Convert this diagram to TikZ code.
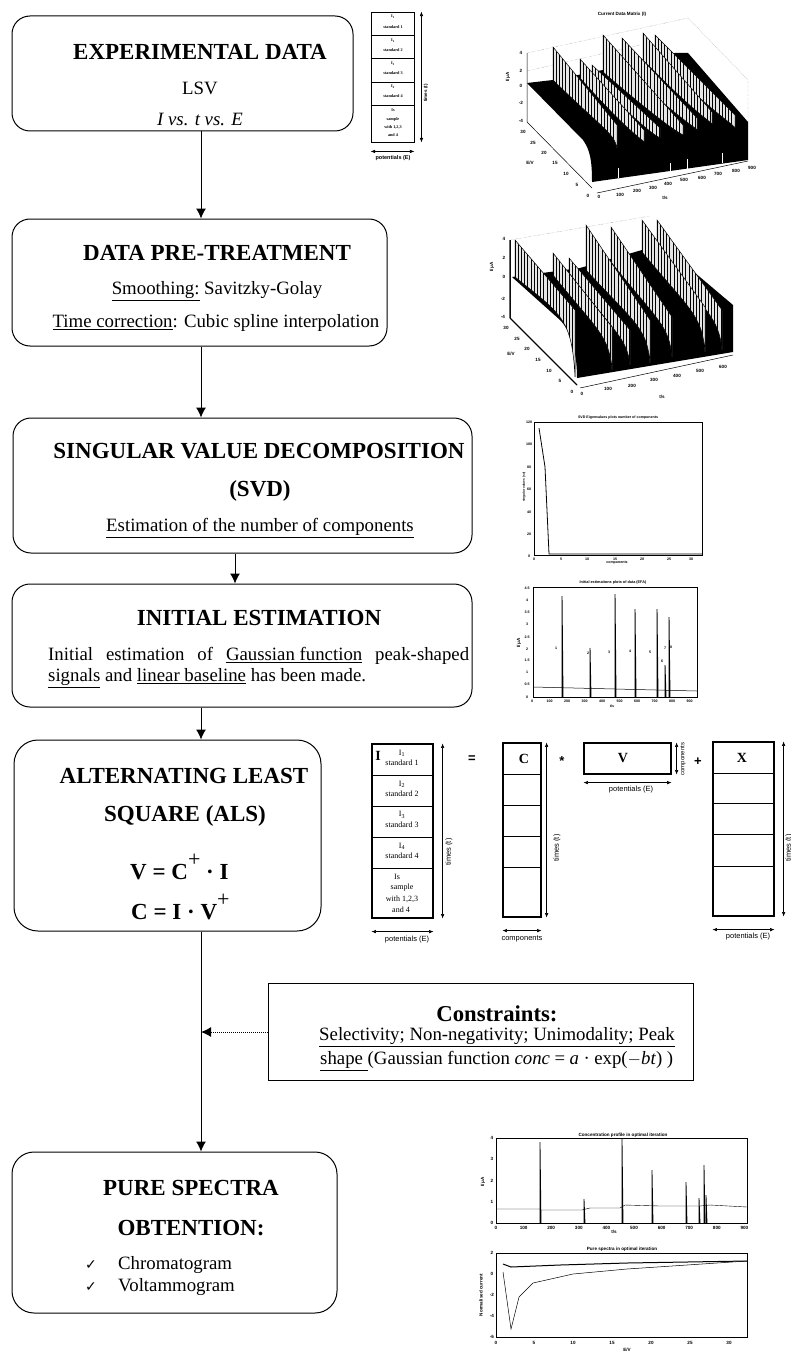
\documentclass[tikz,border=0pt]{standalone}
\usepackage{fontspec}
\setmainfont{Liberation Serif}
\setsansfont{Liberation Sans}
\newfontfamily\checkfont{DejaVu Sans}
\usetikzlibrary{arrows.meta, calc}

\newcommand{\headfont}{\fontsize{23}{25}\selectfont\bfseries}
\newcommand{\bodyfont}{\fontsize{18.8}{20}\selectfont}
\newcommand{\plotfont}{\fontsize{4.6}{5}\selectfont\sffamily\bfseries}
\newcommand{\efafont}{\fontsize{3.6}{4}\selectfont\sffamily\bfseries}
\newcommand{\axisfont}{\fontsize{7.5}{8}\selectfont\sffamily}
\newcommand{\cellfont}{\fontsize{8}{9}\selectfont}
\newcommand{\smallcellfont}{\fontsize{4.2}{5}\selectfont\bfseries}
\newcommand{\supplus}{\raisebox{0.55em}{\fontsize{22}{22}\selectfont\mdseries +}}

% one wall of a 3D surface: back x, back top, back bottom, front x, front top, foot
\newcommand{\surfwall}[6]{
\begin{scope}
\clip (#1,#2) -- (#4,#5) -- (#4,#6) .. controls ({#4-3},{#5+8}) and ({#4-14},{#5+4}) .. (#1,#3) -- cycle;
\fill[black!10] (#1,#2) rectangle (#4+2,#6);
\foreach \hx in {0,3.2,...,90}
  \draw[line width=1pt] ({#1+\hx},#2) -- ({#1+\hx},#6);
\end{scope}
\draw[line width=0.5pt] (#1,#2) -- (#4,#5) -- (#4,#6) .. controls ({#4-3},{#5+8}) and ({#4-14},{#5+4}) .. (#1,#3) -- cycle;
}

\tikzset{
  stagebox/.style={rectangle, draw, rounded corners=18pt, line width=1pt, inner sep=0pt},
  headtext/.style={font=\headfont, inner sep=0pt},
  bodytext/.style={font=\bodyfont, inner sep=0pt},
  flow/.style={-{Latex[length=10pt,width=10pt]}, line width=1pt},
  cellline/.style={line width=0.7pt},
  matbox/.style={rectangle, draw, line width=1.2pt, inner sep=0pt},
  dimarrow/.style={{Latex[length=4.5pt,width=3.5pt]}-{Latex[length=4.5pt,width=3.5pt]}, line width=0.6pt},
  dimtext/.style={font=\axisfont, inner sep=0pt},
  celltext/.style={font=\cellfont, inner sep=0pt},
  smallcell/.style={font=\smallcellfont, inner sep=0pt},
  lettertext/.style={font=\fontsize{14}{14}\selectfont\bfseries, inner sep=0pt},
  optext/.style={font=\fontsize{13}{13}\selectfont\bfseries\sffamily, inner sep=0pt},
  ticklab/.style={font=\plotfont, inner sep=0pt},
  efalab/.style={font=\efafont, inner sep=0pt},
  griddot/.style={densely dotted, line width=0.3pt, black!60},
  plotframe/.style={draw, line width=0.6pt}
}

\begin{document}
\begin{tikzpicture}[x=1pt,y=-1pt]
\useasboundingbox (0,0) rectangle (791,1351);
\coordinate (axis) at (201,0);
\coordinate (axisb) at (235,0);

% Stage boxes
\node[stagebox, minimum width=341pt, minimum height=115pt] (expdata) at (182.5,73.5) {};
\node[stagebox, minimum width=375pt, minimum height=127pt] (pretreat) at (199.5,282.5) {};
\node[stagebox, minimum width=459pt, minimum height=135pt] (svd) at (242.5,485.5) {};
\node[stagebox, minimum width=460pt, minimum height=123pt] (initest) at (242,645.5) {};
\node[stagebox, rounded corners=24pt, minimum width=307pt, minimum height=191pt] (als) at (167.5,835.5) {};
\node[rectangle, draw, line width=1pt, minimum width=425pt, minimum height=97pt] (constraints) at (480.5,1032) {};
\node[stagebox, rounded corners=22pt, minimum width=325pt, minimum height=161pt] (pure) at (174.5,1232.5) {};

% Connectors
\draw[flow] (expdata.south -| axis) -- (pretreat.north -| axis);
\draw[flow] (pretreat.south -| axis) -- (svd.north -| axis);
\draw[flow] (svd.south -| axisb) -- (initest.north -| axisb);
\draw[flow] (initest.south -| axis) -- (als.north -| axis);
\draw[flow] (als.south -| axis) -- (pure.north -| axis);
\draw[-{Latex[length=10pt,width=10pt]}, line width=1pt, densely dotted] (constraints.west) -- (axis |- constraints.west);

% Box 1
\node[headtext] (exptitle) at (200,52) {EXPERIMENTAL DATA};
\node[bodytext] (explsv) at (200,88) {LSV};
\node[bodytext] (expaxes) at (200,119) {\itshape I vs. t vs. E};

% Box 2
\node[headtext] (pretitle) at (217,253) {DATA PRE-TREATMENT};
\node[bodytext] (presmooth) at (217,291) {\underline{Smoothing:} Savitzky-Golay};
\node[bodytext] (pretime) at (216,323) {\underline{Time correction}: Cubic spline interpolation};

% Box 3
\node[headtext] (svdtitle) at (259,451) {SINGULAR VALUE DECOMPOSITION};
\node[headtext] (svdshort) at (260,491) {(SVD)};
\node[bodytext] (svdtext) at (260,528) {\underline{Estimation of the number of components}};

% Box 4
\node[headtext] (initle) at (259,618) {INITIAL ESTIMATION};
\node[bodytext, anchor=west] (inione) at (48,656) {\makebox[421pt][s]{Initial estimation of \underline{Gaussian function} peak-shaped}};
\node[bodytext, anchor=west] (initwo) at (48,678) {\underline{signals} and \underline{linear baseline} has been made.};

% Box 5
\node[headtext] (alsone) at (184,776) {ALTERNATING LEAST};
\node[headtext] (alstwo) at (185,816) {SQUARE (ALS)};
\node[headtext, anchor=west] (alsv) at (130,867) {V = C\supplus{} · I};
\node[headtext, anchor=west] (alsc) at (131,907) {C = I · V\supplus};

% Constraints
\node[font=\fontsize{22.7}{24}\selectfont\bfseries, inner sep=0pt] (contitle) at (497,1014) {Constraints:};
\node[bodytext] (conone) at (497,1037) {\underline{Selectivity; Non-negativity; Unimodality; Peak}};
\node[bodytext, anchor=west] (contwo) at (320,1061) {\makebox[353pt][s]{\underline{shape\ }(Gaussian function \textit{conc} = \textit{a} · exp($-$\textit{bt}) )}};

% Box 7
\node[headtext] (puretitle) at (191,1188) {PURE SPECTRA};
\node[headtext] (puretwo) at (191,1228) {OBTENTION:};
\node[font=\fontsize{14}{15}\selectfont, inner sep=0pt] (checka) at (91,1265) {\checkfont ✓};
\node[font=\fontsize{14}{15}\selectfont, inner sep=0pt] (checkb) at (91,1287) {\checkfont ✓};
\node[bodytext, anchor=west] (purea) at (118,1265) {Chromatogram};
\node[bodytext, anchor=west] (pureb) at (118,1287) {Voltammogram};

% Small data matrix
\node[matbox, line width=0.9pt, minimum width=43pt, minimum height=130pt] (smallmat) at (392.5,77) {};
\foreach \ly in {35,58,82,105}
  \draw[cellline] (smallmat.west |- 0,\ly) -- (smallmat.east |- 0,\ly);
\foreach \ly/\ty/\i in {17/27/1,41/50/2,64/73/3,87/96/4} {
  \node[smallcell] (smallI\i) at (393,\ly) {I\textsubscript{\i}};
  \node[smallcell] (smallS\i) at (393,\ty) {standard \i};
}
\node[smallcell] (smallIs) at (393,110) {Is};
\node[smallcell] (smallsa) at (393,119) {sample};
\node[smallcell] (smallwi) at (393,127) {with 1,2,3};
\node[smallcell] (smallan) at (393,135) {and 4};
\draw[dimarrow] ([xshift=7pt]smallmat.north east) -- ([xshift=7pt]smallmat.south east);
\draw[dimarrow] ([yshift=-9pt]smallmat.south west) -- ([yshift=-9pt]smallmat.south east);
\node[ticklab, rotate=90] (smalltimes) at (426,93) {times (t)};
\node[ticklab, font=\fontsize{5.5}{6}\selectfont\sffamily\bfseries] (smallpot) at (393,158) {potentials (E)};

% Surface plot 1
\node[ticklab] (surfatitle) at (622,14) {Current Data Matrix (I)};
\draw[griddot] (527,53) -- (688,18) -- (748,80) -- (748,122);
\draw[griddot] (527,71) -- (640,45);
\fill (527,83) -- (553,80) -- (603,70) -- (675,53) -- (688,53) -- (748,122) -- (748,160) -- (592,182) .. controls (592,160) and (590,150) .. (583,140) -- cycle;
\foreach \bx/\bt/\bb/\fx/\ft/\fb in {655/35/58/735/115/128,643/33/60/712/112/124,622/38/67/697/118/130,603/35/72/683/125/135,592/65/76/660/128/138,580/59/78/644/130/142,553/47/80/617/125/148}
  \surfwall{\bx}{\bt}{\bb}{\fx}{\ft}{\fb}
\foreach \sx/\sy in {618/172,670/167,687/163,722/157}
  \draw[white, line width=0.8pt] (\sx,\sy+6) -- (\sx,\sy-4);
\draw[line width=0.5pt] (527,53) -- (527,122) -- (592,188);
\draw[line width=0.5pt] (597,193) -- (748,161);
\foreach \ty/\lab in {53/4,71/2,86/0,103/-2,121/-4}
  \node[ticklab] (surfaz\lab) at (521,\ty) {\lab};
\foreach \tx/\ty/\lab in {523/132/30,533/143/25,544/153/20,555/163/15,566/174/10,577/185/5,588/196/0}
  \node[ticklab] (surfae\lab) at (\tx,\ty) {\lab};
\foreach \tx/\ty/\lab in {599/197/0,620/195/100,637/191/200,653/188/300,668/184/400,684/180/500,702/178/600,718/174/700,736/171/800,752/168/900}
  \node[ticklab] (surfat\lab) at (\tx,\ty) {\lab};
\node[ticklab, rotate=90] (surfaI) at (508,77) {I/μA};
\node[ticklab] (surfaE) at (530,163) {E/V};
\node[ticklab] (surfat) at (665,198) {t/s};

% Surface plot 2
\draw[griddot] (510,240) -- (650,216);
\fill (512,277) -- (580,268) -- (642,250) -- (662,245) -- (733,305) -- (733,352) -- (577,378) .. controls (577,350) and (570,330) .. (560,320) -- cycle;
\foreach \bx/\bt/\bb/\fx/\ft/\fb in {657/220/248/722/310/350,642/220/252/705/307/352,611/227/262/672/317/357,586/225/270/650/320/363,569/258/273/630/330/365,553/253/275/612/327/370,515/240/277/575/310/377}
  \surfwall{\bx}{\bt}{\bb}{\fx}{\ft}{\fb}
\draw[line width=0.5pt] (510,240) -- (510,318) -- (577,385);
\draw[line width=0.5pt] (580,388) -- (733,355);
\foreach \ty/\tx/\lab in {239/504/4,258/504/2,277/504/0,299/503/-2,317/503/-4}
  \node[ticklab] (surfbz\lab) at (\tx,\ty) {\lab};
\foreach \tx/\ty/\lab in {506/328/30,517/339/25,527/349/20,538/360/15,549/371/10,560/381/5,572/392/0}
  \node[ticklab] (surfbe\lab) at (\tx,\ty) {\lab};
\foreach \tx/\ty/\lab in {582/394/0,608/389/100,632/386/200,654/380/300,677/376/400,700/371/500,723/367/600}
  \node[ticklab] (surfbt\lab) at (\tx,\ty) {\lab};
\node[ticklab, rotate=90] (surfbI) at (492,267) {I/μA};
\node[ticklab] (surfbE) at (511,354) {E/V};
\node[ticklab] (surfbtt) at (662,397) {t/s};

% SVD plot
\node[efalab] (svdplottitle) at (618,418) {SVD Eigenvalues plots number of components};
\draw[plotframe] (534,422) rectangle (702,555);
\draw[line width=0.8pt] (539,428) -- (545,467) -- (549,554) -- (702,554);
\foreach \ty/\lab in {422/120,444/100,467/80,489/60,512/40,534/20,556/0}
  \node[efalab] (svdy\lab) at (529,\ty) {\lab};
\foreach \tx/\lab in {534/0,561/5,587/10,615/15,642/20,669/25,691/30}
  \node[efalab] (svdx\lab) at (\tx,559) {\lab};
\node[efalab, font=\fontsize{3.2}{4}\selectfont\sffamily\bfseries, rotate=90] (svdylab) at (524,487) {singular values (sv)};
\node[efalab] (svdxlab) at (617,563) {components};

% Initial estimation plot
\node[efalab, font=\fontsize{3.8}{4}\selectfont\sffamily\bfseries] (efatitle) at (613,583) {Initial estimations plots of data (EFA)};
\draw[plotframe] (533,587) rectangle (697,697);
\draw[line width=0.5pt] (533,687) -- (697,691);
\foreach \px/\py in {562/596,590/648,615/594,635/609,657/609,665/665,669/617}
  \draw[line width=0.9pt] (\px,697) -- (\px,\py) -- (\px+1,697);
\foreach \ty/\lab in {588/4.5,600/4,612/3.5,624/3,637/2.5,649/2,660/1.5,672/1,684/0.5,697/0}
  \node[efalab] (efay\lab) at (527,\ty) {\lab};
\foreach \k/\lab in {0/0,1/100,2/200,3/300,4/400,5/500,6/600,7/700,8/800,9/900}
  \node[efalab] (efax\lab) at ({532+17.5*\k},701) {\lab};
\node[ticklab, rotate=90] (efaI) at (519,643) {I/μA};
\node[efalab] (efat) at (612,706) {t/s};
\foreach \px/\py/\lab [count=\i] in {556/648/1,588/653/2,609/652/3,630/651/4,650/652/5,662/661/6,665/648/7,671/647/8}
  \node[efalab] (efan\i) at (\px,\py) {\lab};

% ALS equation: matrix I
\node[matbox, minimum width=61pt, minimum height=174pt] (imat) at (402.5,831) {};
\foreach \ly in {775,806,837,868}
  \draw[cellline] (imat.west |- 0,\ly) -- (imat.east |- 0,\ly);
\node[lettertext] (iletter) at (378,756) {I};
\foreach \ly/\ty/\i in {753/763/1,784/794/2,815/825/3,846/856/4} {
  \node[celltext] (iname\i) at (402,\ly) {I\textsubscript{\i}};
  \node[celltext] (istd\i) at (402,\ty) {standard \i};
}
\node[celltext] (iis) at (397,877) {Is};
\node[celltext] (isample) at (402,888) {sample};
\node[celltext] (iwith) at (402,899) {with 1,2,3};
\node[celltext] (iand) at (401,910) {and 4};
\draw[dimarrow] ([xshift=9pt]imat.north east) -- ([xshift=9pt]imat.south east);
\draw[dimarrow] ([yshift=-13pt]imat.south west) -- ([yshift=-13pt]imat.south east);
\node[dimtext, rotate=90] (itimes) at (449,852) {times (t)};
\node[dimtext] (ipot) at (407,940) {potentials (E)};

% Matrix C
\node[matbox, minimum width=38pt, minimum height=174pt] (cmat) at (522,830) {};
\foreach \ly in {774,805,836,867}
  \draw[cellline] (cmat.west |- 0,\ly) -- (cmat.east |- 0,\ly);
\node[lettertext] (cletter) at (524,759) {C};
\draw[dimarrow] ([xshift=5pt]cmat.north east) -- ([xshift=5pt]cmat.south east);
\draw[dimarrow] ([yshift=-13pt]cmat.south west) -- ([yshift=-13pt]cmat.south east);
\node[dimtext, rotate=90] (ctimes) at (557,848) {times (t)};
\node[dimtext] (ccomp) at (522,939) {components};

% Matrix V
\node[matbox, minimum width=87pt, minimum height=31pt] (vmat) at (627.5,758.5) {};
\node[lettertext] (vletter) at (623,758) {V};
\draw[dimarrow] ([xshift=5pt]vmat.north east) -- ([xshift=5pt]vmat.south east);
\draw[dimarrow] ([yshift=-8pt]vmat.south west) -- ([yshift=-8pt]vmat.south east);
\node[dimtext, font=\fontsize{6}{7}\selectfont\sffamily, rotate=90] (vcomp) at (683,759) {components};
\node[dimtext] (vpot) at (631,790) {potentials (E)};

% Matrix X
\node[matbox, minimum width=61pt, minimum height=174pt] (xmat) at (743.5,829) {};
\foreach \ly in {773,803,834,866}
  \draw[cellline] (xmat.west |- 0,\ly) -- (xmat.east |- 0,\ly);
\node[lettertext] (xletter) at (742,758) {X};
\draw[dimarrow] ([xshift=9pt]xmat.north east) -- ([xshift=9pt]xmat.south east);
\draw[dimarrow] ([yshift=-13pt]xmat.south west) -- ([yshift=-13pt]xmat.south east);
\node[dimtext, rotate=90] (xtimes) at (789,848) {times (t)};
\node[dimtext] (xpot) at (748,937) {potentials (E)};

% Operators
\node[optext] (opeq) at (472,759) {=};
\node[optext] (opstar) at (562,761) {*};
\node[optext] (opplus) at (698,762) {+};

% Concentration profile plot
\node[ticklab] (conctitle) at (623,1135) {Concentration profile in optimal iteration};
\draw[plotframe] (496,1138) rectangle (747,1223);
\draw[line width=0.4pt] (496,1209) -- (540,1209) -- (541,1210) -- (582,1210) -- (590,1208) -- (620,1208) -- (625,1205) -- (660,1206) -- (700,1206) -- (710,1205) -- (747,1207);
\foreach \px/\py in {540/1142,584/1199,622/1138,652/1170,686/1182,699/1198,704/1165,706/1195}
  \draw[line width=0.8pt] (\px,1223) -- (\px,\py) -- (\px+1,1223);
\foreach \ty/\lab in {1138/4,1159/3,1181/2,1202/1,1223/0}
  \node[ticklab] (concy\lab) at (492,\ty) {\lab};
\foreach \k/\lab in {0/0,1/100,2/200,3/300,4/400,5/500,6/600,7/700,8/800,9/900}
  \node[ticklab] (concx\lab) at ({496+27.6*\k},1228) {\lab};
\node[ticklab, rotate=90] (concI) at (483,1182) {I/μA};
\node[ticklab] (conct) at (614,1232) {t/s};

% Pure spectra plot
\node[ticklab] (puretitleplot) at (622,1249) {Pure spectra in optimal iteration};
\draw[plotframe] (496,1253) rectangle (747,1337);
\draw[line width=1pt] (503,1264) -- (511,1267) -- (560,1265) -- (627,1263) -- (747,1261);
\draw[line width=0.5pt] (503,1272) -- (511,1329) -- (519,1297) -- (533,1283) -- (573,1274) -- (627,1269) -- (747,1261);
\foreach \ty/\lab in {1253/2,1274/0,1295/-2,1316/-4,1337/-6}
  \node[ticklab] (spey\lab) at (492,\ty) {\lab};
\foreach \tx/\lab in {496/0,534/5,573/10,612/15,651/20,690/25,729/30}
  \node[ticklab] (spex\lab) at (\tx,1343) {\lab};
\node[ticklab, rotate=90] (speI) at (481,1295) {Normalised current};
\node[ticklab] (speE) at (627,1350) {E/V};
\end{tikzpicture}
\end{document}
